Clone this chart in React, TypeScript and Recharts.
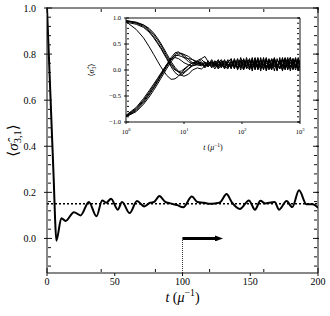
import React from 'react';
import { ComposedChart, LineChart, Line, XAxis, YAxis, ReferenceLine } from 'recharts';

// main panel: <sigma_3,1>(t)
const mainT = [0, 1, 2, 3, 4, 5, 6, 6.9, 10.6, 13.7, 19.9, 24.8, 30.9, 36.5, 40.7, 43.7, 47.3, 52.2,
  55.4, 61, 66.4, 71.8, 76, 79, 83, 87, 91, 96, 100.5, 106.9, 111, 116, 120, 124, 128, 132.5, 136.3, 142.4,
  149, 153.5, 157.5, 161, 164, 168, 171.3, 176.8, 181, 186, 191.5, 196, 200];
const mainY = [1.0, 0.85, 0.7, 0.55, 0.4, 0.25, 0.08, -0.01, 0.088, 0.076, 0.114, 0.1, 0.158, 0.096, 0.165, 0.155, 0.172, 0.125,
  0.158, 0.11, 0.162, 0.139, 0.155, 0.158, 0.184, 0.16, 0.152, 0.145, 0.135, 0.182, 0.158, 0.155, 0.15, 0.152, 0.158, 0.193, 0.158, 0.128,
  0.165, 0.125, 0.163, 0.152, 0.155, 0.158, 0.125, 0.162, 0.136, 0.209, 0.148, 0.148, 0.133];
const plateau = 0.15;
const quenchT = 100;
const arrowEnd = 124;
const yBottom = -0.15;

const xMajor = [0, 50, 100, 150, 200];
const xMinor = [10, 20, 30, 40, 60, 70, 80, 90, 110, 120, 130, 140, 160, 170, 180, 190];
const yMajor = [0, 0.2, 0.4, 0.6, 0.8, 1.0];
const yMinor = [-0.12, -0.08, -0.04, 0.04, 0.08, 0.12, 0.16, 0.24, 0.28, 0.32, 0.36, 0.44, 0.48, 0.52, 0.56,
  0.64, 0.68, 0.72, 0.76, 0.84, 0.88, 0.92, 0.96];

// inset: <sigma_3> for every site, log time
const insetT = [1, 1.5, 2, 2.5, 3, 3.5, 4, 5, 6, 7, 8, 9, 10, 12, 14, 17,
  20, 23, 26, 30, 34, 39, 44, 50, 57, 65, 74, 84, 95,
  107, 120, 135, 150, 168, 188, 210, 235, 262, 292, 325, 362, 403, 448, 498, 553, 614, 682, 757, 840, 932, 1000];
const up1 = [0.93, 0.78, 0.62, 0.45, 0.3, 0.17, 0.06, -0.1, -0.18, -0.17, -0.12, -0.06, 0.0, 0.08, 0.14, 0.16,
  0.12, 0.06, 0.14, 0.08, 0.16, 0.04, 0.18, 0.06, 0.2, 0.02, 0.22, 0.0, 0.18,
  0.04, 0.24, 0.0, 0.2, 0.02, 0.22, -0.02, 0.24, 0.0, 0.2, 0.04, 0.22, 0.0, 0.24, -0.02, 0.2, 0.02, 0.24, 0.0, 0.22, -0.02, 0.2];
const up2 = [0.95, 0.91, 0.86, 0.78, 0.68, 0.58, 0.48, 0.28, 0.12, 0.02, -0.04, -0.06, -0.04, 0.03, 0.1, 0.15,
  0.2, 0.14, 0.08, 0.16, 0.06, 0.18, 0.08, 0.2, 0.04, 0.16, 0.02, 0.2, 0.0,
  0.22, 0.04, 0.2, -0.02, 0.22, 0.02, 0.24, 0.0, 0.22, 0.04, 0.2, -0.02, 0.22, 0.02, 0.24, 0.0, 0.2, -0.02, 0.22, 0.04, 0.24, 0.02];
const up3 = [0.94, 0.9, 0.84, 0.75, 0.64, 0.53, 0.43, 0.24, 0.09, 0.0, -0.03, -0.02, 0.02, 0.09, 0.14, 0.13,
  0.1, 0.16, 0.06, 0.14, 0.1, 0.08, 0.16, 0.02, 0.14, 0.22, 0.04, 0.16, 0.1,
  0.0, 0.2, 0.06, 0.24, 0.0, 0.18, 0.06, 0.22, -0.02, 0.16, 0.08, 0.24, 0.02, 0.18, 0.06, 0.22, 0.0, 0.16, 0.1, 0.24, 0.0, 0.16];
const up4 = [0.95, 0.92, 0.87, 0.8, 0.71, 0.61, 0.51, 0.32, 0.16, 0.05, -0.02, -0.1, -0.12, -0.08, 0.0, 0.04,
  0.02, 0.08, 0.18, 0.04, 0.12, 0.2, 0.06, 0.12, 0.18, 0.08, 0.14, 0.04, 0.24,
  0.08, 0.12, 0.22, 0.02, 0.16, 0.08, 0.2, 0.04, 0.18, 0.1, 0.0, 0.2, 0.12, 0.02, 0.22, 0.1, 0.04, 0.2, 0.14, 0.0, 0.18, 0.1];
const up5 = [0.92, 0.88, 0.82, 0.73, 0.62, 0.51, 0.41, 0.22, 0.06, -0.05, -0.1, -0.1, -0.06, 0.02, 0.08, 0.12,
  0.16, 0.08, 0.1, 0.2, 0.1, 0.12, 0.04, 0.16, 0.1, 0.06, 0.2, 0.1, 0.06,
  0.18, 0.02, 0.12, 0.18, 0.06, 0.24, 0.02, 0.12, 0.2, 0.0, 0.14, 0.22, 0.04, 0.12, 0.2, 0.02, 0.16, 0.24, 0.06, 0.12, 0.0, 0.18];
const lo1 = [-0.9, -0.78, -0.63, -0.48, -0.35, -0.23, -0.12, 0.06, 0.2, 0.3, 0.33, 0.32, 0.28, 0.2, 0.14, 0.1,
  0.08, 0.14, 0.12, 0.06, 0.18, 0.1, 0.14, 0.08, 0.02, 0.18, 0.08, 0.22, 0.04,
  0.14, 0.08, 0.18, 0.04, 0.2, 0.0, 0.14, 0.18, 0.04, 0.22, 0.06, 0.16, -0.02, 0.2, 0.1, 0.04, 0.24, 0.06, 0.14, 0.2, 0.02, 0.12];
const lo2 = [-0.88, -0.74, -0.58, -0.43, -0.3, -0.18, -0.08, 0.1, 0.24, 0.33, 0.35, 0.3, 0.24, 0.16, 0.12, 0.18,
  0.22, 0.26, 0.16, 0.12, 0.02, 0.14, 0.2, 0.1, 0.12, 0.04, 0.18, 0.06, 0.16,
  0.2, 0.06, 0.02, 0.14, 0.1, 0.2, 0.08, 0.02, 0.14, 0.06, 0.22, 0.12, 0.04, 0.18, 0.08, 0.24, 0.12, 0.02, 0.16, 0.06, 0.2, 0.08];
const lo3 = [-0.89, -0.76, -0.6, -0.46, -0.33, -0.21, -0.1, 0.08, 0.22, 0.28, 0.28, 0.26, 0.24, 0.22, 0.2, 0.16,
  0.14, 0.08, 0.16, 0.1, 0.14, 0.06, 0.12, 0.18, 0.08, 0.12, 0.1, 0.14, 0.2,
  0.02, 0.16, 0.1, 0.08, 0.24, 0.04, 0.1, 0.16, 0.08, 0.12, 0.02, 0.18, 0.1, 0.14, 0.0, 0.2, 0.08, 0.12, 0.22, 0.04, 0.14, 0.1];
const lo4 = [-0.87, -0.72, -0.55, -0.4, -0.27, -0.16, -0.06, 0.1, 0.2, 0.24, 0.22, 0.18, 0.14, 0.1, 0.08, 0.1,
  0.1, 0.12, 0.06, 0.18, 0.08, 0.16, 0.1, 0.04, 0.16, 0.2, 0.06, 0.12, 0.08,
  0.16, 0.1, 0.14, 0.2, 0.04, 0.12, 0.16, 0.08, 0.24, 0.02, 0.12, 0.06, 0.18, 0.14, 0.02, 0.1, 0.2, 0.06, 0.16, 0.1, 0.22, 0.06];
const lo5 = [-0.9, -0.8, -0.66, -0.52, -0.39, -0.27, -0.16, 0.02, 0.16, 0.26, 0.3, 0.32, 0.3, 0.26, 0.2, 0.13,
  0.12, 0.04, 0.12, 0.14, 0.12, 0.02, 0.1, 0.14, 0.06, 0.1, 0.16, 0.02, 0.14,
  0.1, 0.18, 0.04, 0.1, 0.14, 0.06, 0.18, 0.1, 0.06, 0.14, 0.2, 0.08, 0.12, 0.04, 0.16, 0.22, 0.08, 0.1, 0.02, 0.18, 0.12, 0.14];

const insetXMajor = [1, 10, 100, 1000];
const insetXMinor = [2, 3, 4, 5, 6, 7, 8, 9, 20, 30, 40, 50, 60, 70, 80, 90, 200, 300, 400, 500, 600, 700, 800, 900];
const insetYMajor = [-1, -0.5, 0, 0.5, 1];
const insetYMinor = [-0.9, -0.8, -0.7, -0.6, -0.4, -0.3, -0.2, -0.1, 0.1, 0.2, 0.3, 0.4, 0.6, 0.7, 0.8, 0.9];

const mainData = mainT.map((t, i) => ({ t, v: mainY[i] }));
const insetSeries = [up1, up2, up3, up4, up5, lo1, lo2, lo3, lo4, lo5];
const insetData = insetT.map((t, i) => {
  const row: any = { t };
  insetSeries.forEach((s, k) => { row['s' + k] = s[i]; });
  return row;
});

const SERIF = '"Liberation Serif", "DejaVu Serif", serif';
const AX = '#111';

const fmt = (v: number) => (v < 0 ? '\u2212' : '') + Math.abs(v).toFixed(1);
const NoTick = () => <g />;

const XLabel = (props: any) => {
  const { viewBox, dy, size } = props;
  const cx = viewBox.x + viewBox.width / 2;
  return (
    <text x={cx} y={viewBox.y + dy} textAnchor="middle" fontFamily={SERIF} fontSize={size} fill="#000">
      <tspan fontStyle="italic">t</tspan> (<tspan fontStyle="italic">μ</tspan>
      <tspan dy={-size * 0.4} fontSize={size * 0.7}>−1</tspan>
      <tspan dy={size * 0.4}>)</tspan>
    </text>
  );
};

const YLabel = (props: any) => {
  const { viewBox, cx, size, sub } = props;
  const x = viewBox.x + cx;
  const y = viewBox.y + viewBox.height / 2;
  return (
    <text x={x} y={y + size * 0.3} transform={`rotate(-90 ${x} ${y})`} textAnchor="middle"
      fontFamily={SERIF} fontSize={size} fill="#000">
      ⟨<tspan fontStyle="italic">σ̂</tspan>
      <tspan dy={size * 0.25} fontSize={size * 0.7}>{sub}</tspan>
      <tspan dy={-size * 0.25}>⟩</tspan>
    </text>
  );
};

const PowTick = (props: any) => {
  const { x, y, payload } = props;
  const e = Math.round(Math.log10(payload.value));
  return (
    <text x={x} y={y} dy={4.6} textAnchor="middle" fontFamily={SERIF} fontSize={6.5} fill="#000">
      10<tspan dy={-3} fontSize={4.5}>{e}</tspan>
    </text>
  );
};

// frame ticks on all four sides (mirrored axes carry no labels)
function frameTicks(id: string, o: any) {
  const base = { allowDataOverflow: true, interval: 0 as const, tick: NoTick, stroke: AX, type: 'number' as const };
  const xb = { ...base, domain: o.xDomain, scale: o.xScale || 'linear', height: 1 };
  const yb = { ...base, domain: o.yDomain, width: 1 };
  return [
    <XAxis key={id + 'bi'} xAxisId={id + 'bi'} orientation="bottom" mirror {...xb} ticks={o.xMaj} tickSize={o.majIn} axisLine={false} />,
    <XAxis key={id + 'bm'} xAxisId={id + 'bm'} orientation="bottom" mirror {...xb} ticks={o.xMin} tickSize={o.minIn} axisLine={false} />,
    <XAxis key={id + 'ti'} xAxisId={id + 'ti'} orientation="top" mirror {...xb} ticks={o.xMaj} tickSize={o.majIn} />,
    <XAxis key={id + 'to'} xAxisId={id + 'to'} orientation="top" mirror {...xb} ticks={o.xMaj} tickSize={-o.majOut} axisLine={false} />,
    <XAxis key={id + 'tm'} xAxisId={id + 'tm'} orientation="top" mirror {...xb} ticks={o.xMin} tickSize={o.minIn} axisLine={false} />,
    <YAxis key={id + 'li'} yAxisId={id + 'li'} orientation="left" mirror {...yb} ticks={o.yMaj} tickSize={o.majIn} axisLine={false} />,
    <YAxis key={id + 'lm'} yAxisId={id + 'lm'} orientation="left" mirror {...yb} ticks={o.yMin} tickSize={o.minIn} axisLine={false} />,
    <YAxis key={id + 'ri'} yAxisId={id + 'ri'} orientation="right" mirror {...yb} ticks={o.yMaj} tickSize={o.majIn} />,
    <YAxis key={id + 'ro'} yAxisId={id + 'ro'} orientation="right" mirror {...yb} ticks={o.yMaj} tickSize={-o.majOut} axisLine={false} />,
    <YAxis key={id + 'rm'} yAxisId={id + 'rm'} orientation="right" mirror {...yb} ticks={o.yMin} tickSize={o.minIn} axisLine={false} />,
  ];
}

export default function App() {
  return (
    <div style={{ position: 'absolute', left: 0, top: 0, width: 330, height: 316, background: '#fff' }}>
      <div style={{ position: 'absolute', left: 0, top: 0 }}>
        <ComposedChart width={330} height={316} data={mainData} margin={{ top: 8, right: 12, bottom: 0, left: 0 }}>
          <defs>
            <marker id="arrowHead" markerWidth={8} markerHeight={6} refX={0} refY={3} orient="auto" markerUnits="userSpaceOnUse">
              <path d="M0,0 L8,3 L0,6 Z" fill="#000" />
            </marker>
          </defs>
          <XAxis xAxisId="xm" type="number" dataKey="t" domain={[0, 200]} allowDataOverflow ticks={xMajor} interval={0}
            tickSize={3} tickMargin={2} height={43} stroke={AX}
            tick={{ fontSize: 10, fill: '#000', fontFamily: SERIF }}
            label={<XLabel dy={29} size={14} />} />
          <YAxis yAxisId="ym" type="number" domain={[yBottom, 1.0]} allowDataOverflow ticks={yMajor} interval={0}
            tickSize={3} tickMargin={8} width={47} stroke={AX} tickFormatter={fmt}
            tick={{ fontSize: 10, fill: '#000', fontFamily: SERIF }}
            label={<YLabel cx={13} size={15} sub="3,1" />} />
          {frameTicks('m', { xDomain: [0, 200], yDomain: [yBottom, 1.0], xMaj: xMajor, xMin: xMinor, yMaj: yMajor, yMin: yMinor, majIn: 5, majOut: 3, minIn: 3 })}
          <ReferenceLine xAxisId="xm" yAxisId="ym" y={plateau} stroke="#000" strokeWidth={1.5} strokeDasharray="2 2" />
          <ReferenceLine xAxisId="xm" yAxisId="ym" segment={[{ x: quenchT, y: yBottom }, { x: quenchT, y: 0 }]}
            stroke="#000" strokeWidth={0.8} strokeDasharray="1 1" />
          <ReferenceLine xAxisId="xm" yAxisId="ym" segment={[{ x: quenchT, y: 0 }, { x: arrowEnd, y: 0 }]}
            stroke="#000" strokeWidth={3} markerEnd="url(#arrowHead)" />
          <Line xAxisId="xm" yAxisId="ym" dataKey="v" type="monotone" stroke="#000" strokeWidth={2}
            dot={false} isAnimationActive={false} />
        </ComposedChart>
      </div>
      <div style={{ position: 'absolute', left: 0, top: 0 }}>
        <LineChart width={330} height={160} data={insetData} margin={{ top: 18, right: 30, bottom: 0, left: 100 }}>
          <XAxis xAxisId="xi" type="number" scale="log" dataKey="t" domain={[1, 1000]} allowDataOverflow
            ticks={insetXMajor} interval={0} tickSize={2} tickMargin={5} height={38} stroke={AX}
            tick={<PowTick />} label={<XLabel dy={28} size={8} />} />
          <YAxis yAxisId="yi" type="number" domain={[-1, 1]} allowDataOverflow ticks={insetYMajor} interval={0}
            tickSize={2} tickMargin={3} width={26} stroke={AX} tickFormatter={fmt}
            tick={{ fontSize: 6.5, fill: '#000', fontFamily: SERIF }}
            label={<YLabel cx={-8} size={8} sub="3" />} />
          {frameTicks('i', { xDomain: [1, 1000], xScale: 'log', yDomain: [-1, 1], xMaj: insetXMajor, xMin: insetXMinor, yMaj: insetYMajor, yMin: insetYMinor, majIn: 3, majOut: 2, minIn: 2 })}
          {insetSeries.map((_, k) => (
            <Line key={k} xAxisId="xi" yAxisId="yi" dataKey={'s' + k} type="linear" stroke="#000" strokeWidth={1}
              dot={false} isAnimationActive={false} />
          ))}
        </LineChart>
      </div>
    </div>
  );
}
